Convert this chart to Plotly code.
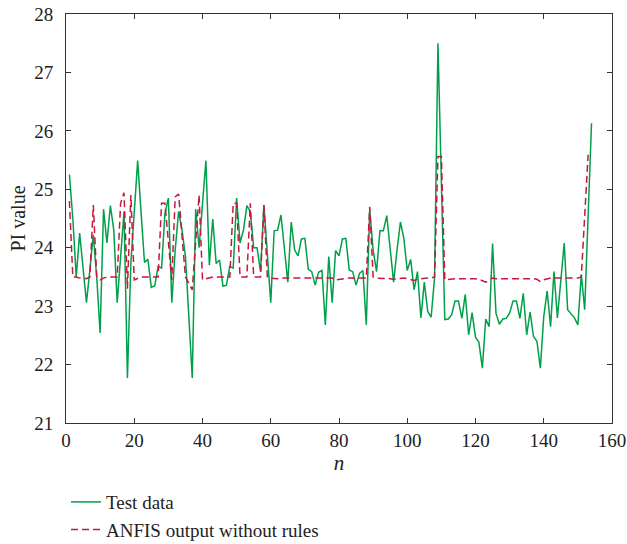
import plotly.graph_objects as go

# 시험 데이터 (n = 1..154)
n_test = list(range(1, 155))
test_data = [
    25.25, 24.5, 23.5, 24.25, 23.65, 23.06, 23.63, 24.22, 23.5, 22.54,
    24.66, 24.08, 24.72, 24.3, 23.06, 23.85, 24.62, 21.77, 23.73, 24.6,
    25.49, 24.6, 23.75, 23.8, 23.32, 23.35, 23.68, 23.65, 24.59, 24.85,
    23.06, 23.96, 24.62, 24.3, 23.85, 22.82, 21.77, 24.66, 24.0, 24.75,
    25.49, 23.7, 24.49, 23.73, 23.79, 23.34, 23.36, 23.68, 23.65, 24.85,
    24.08, 24.3, 24.72, 24.62, 24.0, 24.0, 23.59, 24.73, 23.9, 23.06,
    24.29, 24.3, 24.56, 23.96, 23.41, 24.44, 23.96, 23.86, 24.15, 24.16,
    23.63, 23.59, 23.36, 23.58, 23.61, 22.68, 23.85, 23.06, 23.95, 23.86,
    24.15, 24.16, 23.62, 23.59, 23.36, 23.56, 23.61, 22.68, 24.65, 23.96,
    23.59, 24.29, 24.29, 24.55, 23.96, 23.41, 23.96, 24.44, 24.16, 23.61,
    23.8, 23.28, 23.59, 22.8, 23.41, 22.91, 22.81, 23.48, 27.5, 24.9,
    22.77, 22.78, 22.85, 23.09, 23.09, 22.79, 23.2, 22.51, 22.89, 22.47,
    22.38, 21.94, 22.78, 22.65, 24.07, 22.88, 22.69, 22.78, 22.79, 22.88,
    23.09, 23.09, 22.79, 23.22, 22.51, 22.9, 22.48, 22.4, 21.94, 22.82,
    23.26, 22.65, 23.59, 22.8, 23.45, 24.08, 22.94, 22.87, 22.8, 22.68,
    23.54, 22.94, 24.53, 26.13,
]

# ANFIS 출력 (n = 1..153)
n_anfis = list(range(1, 154))
anfis_out = [
    24.8, 23.5, 23.5, 23.48, 23.48, 23.47, 23.5, 24.73, 23.5, 23.45,
    23.48, 23.5, 23.5, 23.5, 23.5, 24.76, 24.94, 23.3, 24.9, 23.45,
    23.48, 23.5, 23.5, 23.5, 23.5, 23.5, 23.5, 24.76, 24.76, 24.1,
    23.45, 24.87, 24.92, 24.2, 23.5, 23.39, 23.28, 24.1, 24.9, 23.45,
    23.47, 23.48, 23.5, 23.5, 23.5, 23.5, 23.5, 23.5, 24.76, 24.76,
    23.5, 23.5, 23.5, 24.76, 23.5, 23.5, 23.5, 24.73, 23.5, 23.48,
    23.47, 23.47, 23.48, 23.48, 23.47, 23.47, 23.48, 23.48, 23.48, 23.47,
    23.47, 23.48, 23.48, 23.48, 23.47, 23.47, 23.48, 23.48, 23.45, 23.46,
    23.47, 23.48, 23.48, 23.48, 23.47, 23.48, 23.48, 23.48, 24.7, 23.5,
    23.48, 23.48, 23.47, 23.47, 23.47, 23.46, 23.47, 23.48, 23.48, 23.47,
    23.45, 23.44, 23.46, 23.47, 23.48, 23.48, 23.48, 23.5, 25.56, 25.56,
    23.45, 23.46, 23.47, 23.47, 23.47, 23.47, 23.48, 23.48, 23.47, 23.47,
    23.46, 23.44, 23.41, 23.45, 23.48, 23.47, 23.47, 23.47, 23.48, 23.47,
    23.47, 23.48, 23.47, 23.47, 23.47, 23.48, 23.47, 23.46, 23.42, 23.45,
    23.47, 23.48, 23.48, 23.48, 23.48, 23.48, 23.48, 23.48, 23.48, 23.48,
    23.5, 24.6, 25.59,
]

x_ticks = [0, 20, 40, 60, 80, 100, 120, 140, 160]
y_ticks = [21, 22, 23, 24, 25, 26, 27, 28]

serif = "Liberation Serif, Times New Roman, serif"

fig = go.Figure()
fig.add_trace(go.Scatter(
    x=n_test, y=test_data, mode='lines', name='Test data',
    line=dict(color='#00a04a', width=1.5)))
fig.add_trace(go.Scatter(
    x=n_anfis, y=anfis_out, mode='lines', name='ANFIS output without rules',
    line=dict(color='#c8163f', width=1.5, dash='7px,4px')))

axis_common = dict(showgrid=False, zeroline=False, showline=True, linecolor='#333333',
                   linewidth=1, mirror='allticks', ticks='inside', ticklen=5,
                   tickcolor='#333333', automargin=False,
                   tickfont=dict(family=serif, size=19, color='#222222'))

fig.update_layout(
    width=627, height=544,
    paper_bgcolor='white', plot_bgcolor='white',
    margin=dict(l=66, r=15, t=14, b=121),
    font=dict(family=serif, size=20, color='#222222'),
    xaxis=dict(range=[0, 160], tickvals=x_ticks,
               title=dict(text='<i>n</i>', font=dict(family=serif, size=21), standoff=5),
               **axis_common),
    yaxis=dict(range=[21, 28], tickvals=y_ticks, ticklabelstandoff=8,
               title=dict(text='PI value', font=dict(family=serif, size=20), standoff=3),
               **axis_common),
    showlegend=True,
    legend=dict(x=0.0, y=0.112, xanchor='left', yanchor='top', yref='container',
                font=dict(family=serif, size=19), bgcolor='rgba(0,0,0,0)',
                tracegroupgap=0),
)

# body 기본 여백(8px) 제거
fig.write_html("out.html", config={'displayModeBar': False},
               post_script="document.body.style.margin='0';")
